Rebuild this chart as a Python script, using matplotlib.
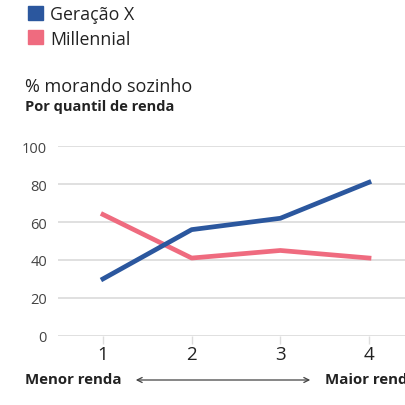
import matplotlib
matplotlib.use("Agg")
import matplotlib.pyplot as plt

quantis = [1, 2, 3, 4]
geracao_x = [30, 56, 62, 81]
millennial = [64, 41, 45, 41]
y_ticks = [0, 20, 40, 60, 80, 100]

azul = "#2b579e"
rosa = "#ef6b7f"

plt.rcParams['font.family'] = ['Open Sans', 'DejaVu Sans']

fig = plt.figure(figsize=(4.06, 4.06), dpi=100)
W = H = 406.0

def fx(px):
    return px / W

def fy(py):
    return 1 - py / H

ax = fig.add_axes([fx(58), fy(336.7), 1 - fx(58), fy(147.3) - fy(336.7)])
ax.plot(quantis, geracao_x, color=azul, lw=3.4, clip_on=False, zorder=3)
ax.plot(quantis, millennial, color=rosa, lw=3.4, clip_on=False, zorder=2)

ax.set_xlim(1 - 45 / 88.67, 4 + 37 / 88.67)
ax.set_ylim(0, 100)
ax.set_yticks(y_ticks)
ax.set_xticks(quantis)
ax.yaxis.grid(True, color="#dddddd", lw=1.3)
ax.set_axisbelow(True)
for s in ax.spines.values():
    s.set_visible(False)
ax.tick_params(axis="y", length=0, pad=8, labelsize=10.5, labelcolor="#444444")
ax.tick_params(axis="x", length=6, width=1, color="#dddddd", pad=1,
               labelsize=13.5, labelcolor="#222222")

# legenda
fig.patches.append(plt.Rectangle((fx(28), fy(21)), fx(15), fy(7) - fy(21),
                                 transform=fig.transFigure, color=azul))
fig.patches.append(plt.Rectangle((fx(28), fy(45)), fx(15), fy(31) - fy(45),
                                 transform=fig.transFigure, color=rosa))
fig.text(fx(50), fy(15), "Geração X", fontsize=12.8, color="#222222", va="center")
fig.text(fx(50), fy(40), "Millennial", fontsize=12.8, color="#222222", va="center")

fig.text(fx(25), fy(87), "% morando sozinho", fontsize=13, color="#222222", va="center")
fig.text(fx(25), fy(107), "Por quantil de renda", fontsize=10.5, fontweight="bold",
         color="#222222", va="center")

fig.text(fx(25), fy(380), "Menor renda", fontsize=10.8, fontweight="bold",
         color="#222222", va="center")
fig.text(fx(325), fy(380), "Maior renda", fontsize=10.8, fontweight="bold",
         color="#222222", va="center")
fig.add_artist(matplotlib.patches.FancyArrowPatch(
    (fx(133), fy(381)), (fx(313), fy(381)), transform=fig.transFigure,
    arrowstyle="<->", mutation_scale=9, color="#444444", lw=0.9))

fig.savefig("out.png", dpi=100)
